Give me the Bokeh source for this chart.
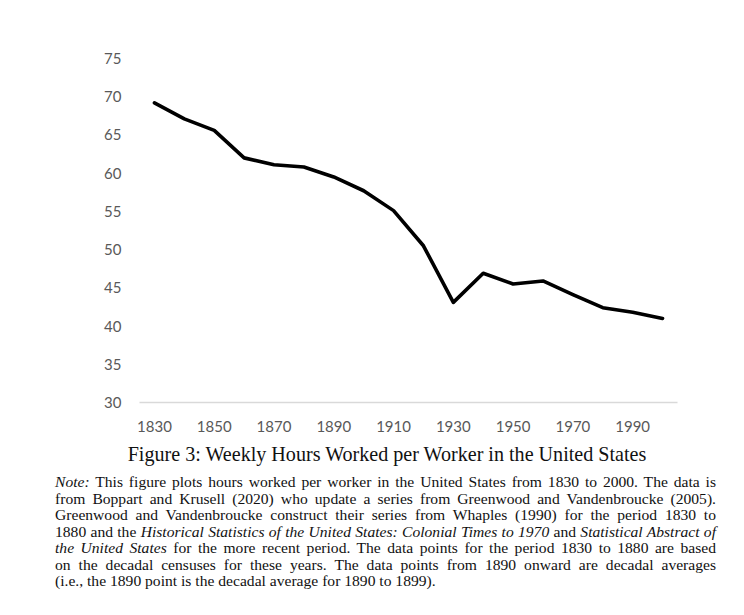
from bokeh.plotting import figure
from bokeh.models import Range1d, FixedTicker, Div
from bokeh.layouts import column
from bokeh.embed import file_html
from bokeh.resources import INLINE

# ---- data ----
years = list(range(1830, 2001, 10))
hours = [69.2, 67.1, 65.6, 62.0, 61.1, 60.8, 59.5, 57.7, 55.1, 50.5,
         43.1, 46.9, 45.5, 45.9, 44.1, 42.4, 41.8, 41.0]
x_ticks = [1830, 1850, 1870, 1890, 1910, 1930, 1950, 1970, 1990]
y_ticks = [30, 35, 40, 45, 50, 55, 60, 65, 70, 75]
caption = "Figure 3: Weekly Hours Worked per Worker in the United States"
note_lines = [
    "<i>Note:</i> This figure plots hours worked per worker in the United States from 1830 to 2000. The data is",
    "from Boppart and Krusell (2020) who update a series from Greenwood and Vandenbroucke (2005).",
    "Greenwood and Vandenbroucke construct their series from Whaples (1990) for the period 1830 to",
    "1880 and the <i>Historical Statistics of the United States: Colonial Times to 1970</i> and <i>Statistical Abstract of</i>",
    "<i>the United States</i> for the more recent period. The data points for the period 1830 to 1880 are based",
    "on the decadal censuses for these years. The data points from 1890 onward are decadal averages",
    "(i.e., the 1890 point is the decadal average for 1890 to 1899).",
]

p = figure(width=728, height=442, output_backend="svg", toolbar_location=None,
           x_range=Range1d(1825, 2005), y_range=Range1d(30, 75),
           min_border_left=139, min_border_right=51, min_border_top=58,
           min_border_bottom=40)
p.outline_line_color = None
p.xgrid.visible = False
p.ygrid.visible = False
p.background_fill_color = "white"
p.border_fill_color = "white"

p.line(years, hours, line_width=3.6, color="black", line_join="round", line_cap="round")

p.xaxis.ticker = FixedTicker(ticks=x_ticks)
p.xaxis.axis_line_color = "#d9d9d9"
p.xaxis.axis_line_width = 1.5
p.xaxis.major_tick_line_color = None
p.xaxis.minor_tick_line_color = None
p.xaxis.major_label_standoff = 12
p.xaxis.major_label_text_font = "Lato"
p.xaxis.major_label_text_font_size = "15px"
p.xaxis.major_label_text_color = "#595959"

p.yaxis.ticker = FixedTicker(ticks=y_ticks)
p.yaxis.axis_line_color = None
p.yaxis.major_tick_line_color = None
p.yaxis.minor_tick_line_color = None
p.yaxis.major_label_standoff = 12
p.yaxis.major_label_text_font = "Lato"
p.yaxis.major_label_text_font_size = "15px"
p.yaxis.major_label_text_color = "#595959"

cap_html = ('<div style="width:728px;height:24px;line-height:24px;text-align:center;'
            'padding-left:46px;box-sizing:border-box;font-family:\'Liberation Serif\',serif;'
            'font-size:20.1px;color:#111;white-space:nowrap;">' + caption + '</div>')
cap_div = Div(text=cap_html, width=728, height=24, margin=(0, 0, 0, 0))

rows = []
for i, ln in enumerate(note_lines):
    last = "left" if i == len(note_lines) - 1 else "justify"
    rows.append('<div style="white-space:nowrap;text-align:justify;text-align-last:%s;">%s</div>' % (last, ln))
note_html = ('<div style="margin-left:55px;width:661px;padding-top:8px;'
             'font-family:\'Liberation Serif\',serif;font-size:15.6px;line-height:16.5px;color:#111;">'
             + "".join(rows) + '</div>')
note_div = Div(text=note_html, width=728, height=130, margin=(0, 0, 0, 0))

layout = column(p, cap_div, note_div, spacing=0)
open("out.html", "w").write(file_html(layout, INLINE))
